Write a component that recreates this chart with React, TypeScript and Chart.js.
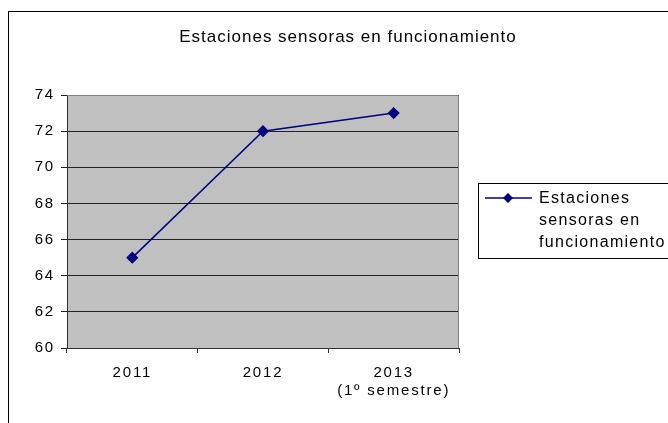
import React, { useEffect, useRef } from "react";
import { Chart, registerables } from "chart.js";

Chart.register(...registerables);

const categories: (string | string[])[] = ["2011", "2012", ["2013", "(1º semestre)"]];
const seriesName = "Estaciones sensoras en funcionamiento";
const seriesValues = [65, 72, 73];
const legendLines = ["Estaciones", "sensoras en", "funcionamiento"];
const chartTitle = "Estaciones sensoras en funcionamiento";

const FONT = "Arial, 'Liberation Sans', sans-serif";
const NAVY = "#000080";
const TICK_SPACING = "1.8px";

const decor = {
  id: "decor",
  beforeLayout(chart: any) {
    (chart.ctx as any).letterSpacing = TICK_SPACING;
  },
  beforeDraw(chart: any) {
    const { ctx, chartArea: a } = chart;
    ctx.letterSpacing = TICK_SPACING;
    ctx.save();
    ctx.fillStyle = "#fff";
    ctx.fillRect(0, 0, chart.width, chart.height);
    ctx.strokeStyle = "#000";
    ctx.lineWidth = 1;
    ctx.strokeRect(8.5, 11.5, chart.width + 20, chart.height + 20);
    ctx.fillStyle = "#C0C0C0";
    ctx.fillRect(a.left, a.top, a.right - a.left, a.bottom - a.top);
    ctx.restore();
  },
  afterDraw(chart: any) {
    const { ctx, chartArea: a } = chart;
    ctx.save();
    ctx.strokeStyle = "#808080";
    ctx.lineWidth = 1;
    ctx.beginPath();
    ctx.moveTo(a.left, a.top + 0.5);
    ctx.lineTo(a.right - 0.5, a.top + 0.5);
    ctx.lineTo(a.right - 0.5, a.bottom);
    ctx.stroke();
    // title
    ctx.fillStyle = "#000";
    ctx.letterSpacing = "1px";
    ctx.font = `17px ${FONT}`;
    ctx.textAlign = "center";
    ctx.textBaseline = "middle";
    ctx.fillText(chartTitle, 348, 37);
    // legend box
    ctx.strokeStyle = "#000";
    ctx.strokeRect(478.5, 183.5, 220, 75);
    const ds = chart.data.datasets[0];
    ctx.strokeStyle = ds.borderColor;
    ctx.lineWidth = 1.5;
    ctx.beginPath();
    ctx.moveTo(485, 198);
    ctx.lineTo(532, 198);
    ctx.stroke();
    ctx.fillStyle = ds.pointBackgroundColor;
    ctx.beginPath();
    ctx.moveTo(508, 193);
    ctx.lineTo(513, 198);
    ctx.lineTo(508, 203);
    ctx.lineTo(503, 198);
    ctx.closePath();
    ctx.fill();
    ctx.fillStyle = "#000";
    ctx.letterSpacing = "1.3px";
    ctx.font = `16px ${FONT}`;
    ctx.textAlign = "left";
    ctx.textBaseline = "middle";
    legendLines.forEach((t, i) => ctx.fillText(t, 539, 199 + i * 22));
    ctx.restore();
  },
};

export default function App() {
  const ref = useRef<HTMLCanvasElement>(null);
  useEffect(() => {
    const chart = new Chart(ref.current!, {
      type: "line",
      data: {
        labels: categories,
        datasets: [
          {
            label: seriesName,
            data: seriesValues,
            borderColor: NAVY,
            backgroundColor: NAVY,
            pointBackgroundColor: NAVY,
            pointBorderColor: NAVY,
            pointStyle: "rectRot",
            pointRadius: 5,
            borderWidth: 1.5,
            tension: 0,
          },
        ],
      },
      options: {
        animation: false,
        responsive: false,
        layout: { padding: { top: 95, right: 209, left: 0, bottom: 0 } },
        plugins: { legend: { display: false }, title: { display: false }, tooltip: { enabled: false } },
        scales: {
          x: {
            offset: true,
            grid: { offset: true, drawOnChartArea: false, color: "#333", tickLength: 5 },
            border: { color: "#333", width: 1 },
            ticks: { color: "#000", font: { family: FONT, size: 15, lineHeight: 1.2 }, padding: 11, maxRotation: 0 },
            afterFit: (s: any) => { s.height = 75; },
          },
          y: {
            min: 60,
            max: 74,
            ticks: { stepSize: 2, color: "#000", font: { family: FONT, size: 15 }, padding: 6 },
            grid: { color: "#222", tickLength: 6 },
            border: { color: "#333", width: 1 },
            afterFit: (s: any) => { s.width = 67; },
          },
        },
      },
      plugins: [decor],
    });
    return () => chart.destroy();
  }, []);
  return (
    <div style={{ position: "fixed", left: 0, top: 0, width: 668, height: 423 }}>
      <canvas ref={ref} width={668} height={423} style={{ width: 668, height: 423 }} />
    </div>
  );
}
